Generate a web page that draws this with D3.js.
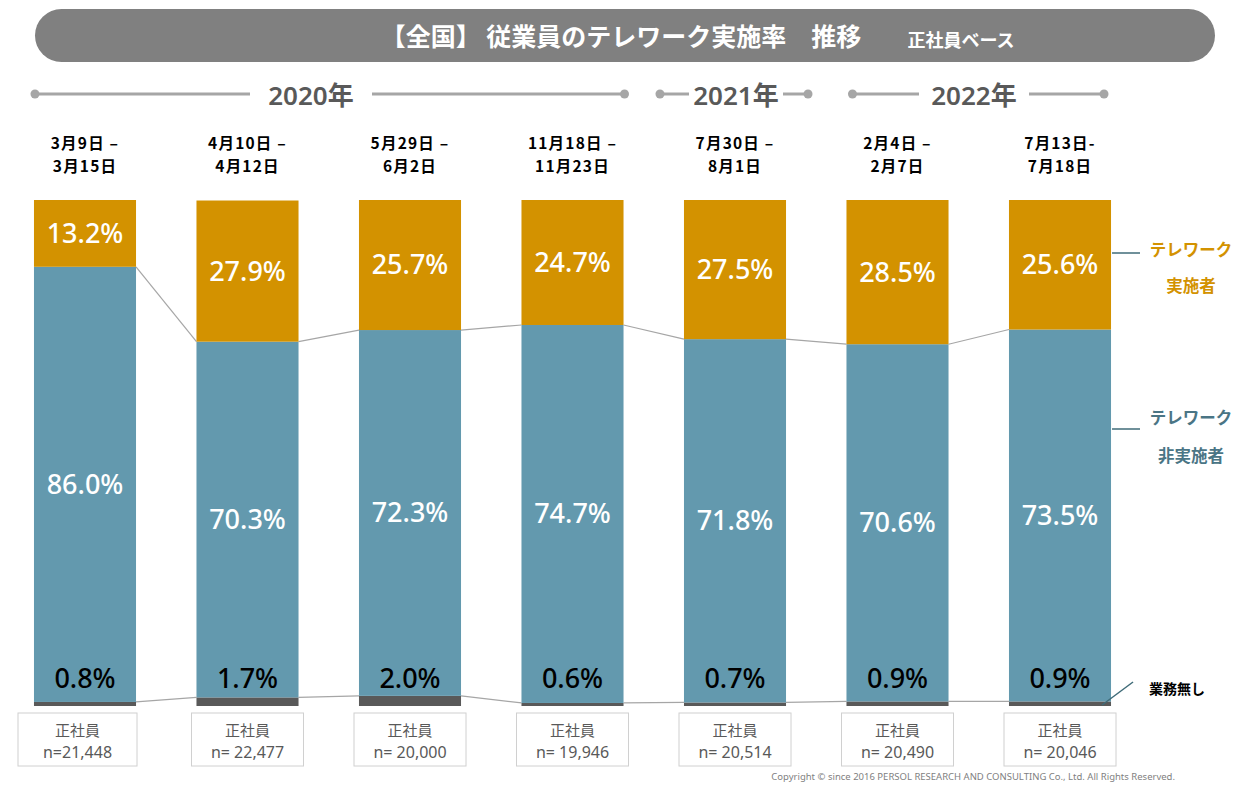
<!DOCTYPE html>
<html><head><meta charset="utf-8">
<script src="https://cdn.jsdelivr.net/npm/d3@7"></script>
<style>
html,body{margin:0;padding:0;background:#fff;}
svg{display:block;font-family:"Noto Sans CJK JP","Noto Sans",sans-serif;}
</style></head>
<body>
<svg id="chart" width="1233" height="785"></svg>
<script>
// ---- data ----
const periodLine1 = ["3月9日 –","4月10日 –","5月29日 –","11月18日 –","7月30日 –","2月4日 –","7月13日-"];
const periodLine2 = ["3月15日","4月12日","6月2日","11月23日","8月1日","2月7日","7月18日"];
const telework    = [13.2, 27.9, 25.7, 24.7, 27.5, 28.5, 25.6];
const nonTelework = [86.0, 70.3, 72.3, 74.7, 71.8, 70.6, 73.5];
const noWork      = [0.8, 1.7, 2.0, 0.6, 0.7, 0.9, 0.9];
const sampleN     = ["n=21,448","n= 22,477","n= 20,000","n= 19,946","n= 20,514","n= 20,490","n= 20,046"];
const yearLabels  = ["2020年","2021年","2022年"];
const yearFirst   = [0, 4, 5];
const yearLast    = [3, 4, 6];
const seriesNames = ["テレワーク実施者","テレワーク非実施者","業務無し"];

const C_ORANGE = "#D39200", C_BLUE = "#6399AE", C_GRAY = "#595959", C_TEAL = "#3F6B78";

const svg = d3.select("#chart");
const idx = d3.range(telework.length);

const x = d3.scaleBand().domain(idx).range([3.75, 1141.25]).paddingInner(0.372).paddingOuter(0.186);
const y = d3.scaleLinear().domain([0, 100]).range([706, 200]);
const bw = x.bandwidth();

// ---- title banner ----
svg.append("rect").attr("x", 35).attr("y", 9).attr("width", 1180).attr("height", 53)
  .attr("rx", 26.5).attr("fill", "#808080");
svg.append("text").attr("x", 621).attr("y", 46).attr("text-anchor", "middle")
  .attr("fill", "#fff").attr("font-size", 25).attr("font-weight", "bold")
  .text("【全国】 従業員のテレワーク実施率　推移");
svg.append("text").attr("x", 961).attr("y", 47).attr("text-anchor", "middle")
  .attr("fill", "#fff").attr("font-size", 18).attr("font-weight", "bold")
  .text("正社員ベース");

// ---- year headers ----
const yearY = 94;
const padL = [1, -24, 6], padR = [1, 22, -7];
const textHalf = [[-61, 61], [-47, 47], [-55, 55]];
yearLabels.forEach((lab, i) => {
  const x0 = x(yearFirst[i]) + padL[i];
  const x1 = x(yearLast[i]) + bw + padR[i];
  const cx = i === 0 ? 311 : (i === 1 ? 736 : 974);
  const g = svg.append("g");
  [[x0, cx + textHalf[i][0]], [cx + textHalf[i][1], x1]].forEach(s => {
    g.append("line").attr("x1", s[0]).attr("x2", s[1]).attr("y1", yearY).attr("y2", yearY)
      .attr("stroke", "#a6a6a6").attr("stroke-width", 3);
  });
  [x0, x1].forEach(px => g.append("circle").attr("cx", px).attr("cy", yearY).attr("r", 4.5).attr("fill", "#a6a6a6"));
  g.append("text").attr("x", cx).attr("y", 105).attr("text-anchor", "middle")
    .attr("fill", "#595959").attr("font-size", 26).attr("font-weight", 600)
    .attr("font-family", "'Noto Sans','Noto Sans CJK JP',sans-serif")
    .text(lab);
});

// ---- period labels ----
idx.forEach(i => {
  const cx = x(i) + bw / 2;
  const t = svg.append("text").attr("text-anchor", "middle").attr("font-size", 15.5)
    .attr("font-weight", "bold").attr("fill", "#000").attr("letter-spacing", 1.2);
  t.append("tspan").attr("x", cx).attr("y", 149).text(periodLine1[i]);
  t.append("tspan").attr("x", cx).attr("y", 172).text(periodLine2[i]);
});

// ---- stacked bars ----
const rows = idx.map(i => ({ i, noWork: noWork[i], nonTelework: nonTelework[i], telework: telework[i] }));
const stack = d3.stack().keys(["noWork", "nonTelework", "telework"]);
const layers = stack(rows);
const colors = { noWork: C_GRAY, nonTelework: C_BLUE, telework: C_ORANGE };

// connectors
const connG = svg.append("g");
[0, 1].forEach(li => {
  const layer = layers[li];
  for (let i = 0; i < idx.length - 1; i++) {
    connG.append("line")
      .attr("x1", x(i) + bw).attr("y1", y(layer[i][1]))
      .attr("x2", x(i + 1)).attr("y2", y(layer[i + 1][1]))
      .attr("stroke", "#a6a6a6").attr("stroke-width", 1.2);
  }
});

layers.forEach(layer => {
  svg.append("g").selectAll("rect").data(layer).join("rect")
    .attr("x", d => x(d.data.i))
    .attr("y", d => y(d[1]))
    .attr("width", bw)
    .attr("height", d => y(d[0]) - y(d[1]))
    .attr("fill", colors[layer.key]);
});

// labels
const fmt = v => v.toFixed(1) + "%";
const labG = svg.append("g").attr("font-family", "'Noto Sans',sans-serif").attr("font-size", 27).attr("text-anchor", "middle");
layers[2].forEach(d => {
  labG.append("text").attr("x", x(d.data.i) + bw / 2).attr("y", (y(d[0]) + y(d[1])) / 2)
    .attr("dy", "0.35em").attr("fill", "#fff").attr("font-weight", 500).text(fmt(d.data.telework));
});
layers[1].forEach(d => {
  labG.append("text").attr("x", x(d.data.i) + bw / 2).attr("y", (y(d[0]) + y(d[1])) / 2)
    .attr("dy", "0.35em").attr("fill", "#fff").attr("font-weight", 500).text(fmt(d.data.nonTelework));
});
layers[0].forEach(d => {
  labG.append("text").attr("x", x(d.data.i) + bw / 2).attr("y", y(0) - 27)
    .attr("dy", "0.35em").attr("fill", "#000").attr("font-weight", 500).text(fmt(d.data.noWork));
});

// ---- sample boxes ----
idx.forEach(i => {
  const cx = x(i) + bw / 2;
  const w = i === 0 ? 119 : 112;
  const bx = i === 0 ? 18 : cx - w / 2;
  svg.append("rect").attr("x", bx).attr("y", 713).attr("width", w).attr("height", 53)
    .attr("fill", "#fff").attr("stroke", "#d0d0d0").attr("stroke-width", 1);
  const tcx = bx + w / 2;
  svg.append("text").attr("x", tcx).attr("y", 736).attr("text-anchor", "middle")
    .attr("font-size", 15).attr("fill", "#595959").text("正社員");
  svg.append("text").attr("x", tcx).attr("y", 758).attr("text-anchor", "middle")
    .attr("font-size", 16).attr("fill", "#595959")
    .attr("font-family", "'Noto Sans',sans-serif")
    .text(sampleN[i]);
});

// ---- right legend ----
const lx = x(idx.length - 1) + bw;
const legG = svg.append("g").attr("font-weight", "bold").attr("text-anchor", "middle");
svg.append("line").attr("x1", lx + 1).attr("x2", lx + 29).attr("y1", 253).attr("y2", 253).attr("stroke", C_TEAL).attr("stroke-width", 1.5);
svg.append("line").attr("x1", lx + 1).attr("x2", lx + 29).attr("y1", 429).attr("y2", 429).attr("stroke", C_TEAL).attr("stroke-width", 1.5);
svg.append("line").attr("x1", lx - 9).attr("x2", lx + 22).attr("y1", 705).attr("y2", 682).attr("stroke", C_TEAL).attr("stroke-width", 1.5);
legG.append("text").attr("x", 1191).attr("y", 256).attr("font-size", 16.5).attr("fill", C_ORANGE).text("テレワーク");
legG.append("text").attr("x", 1191).attr("y", 292).attr("font-size", 16.5).attr("fill", C_ORANGE).text("実施者");
legG.append("text").attr("x", 1191).attr("y", 424).attr("font-size", 16.5).attr("fill", "#4A7585").text("テレワーク");
legG.append("text").attr("x", 1191).attr("y", 462).attr("font-size", 16.5).attr("fill", "#4A7585").text("非実施者");
legG.append("text").attr("x", 1177).attr("y", 694).attr("font-size", 14).attr("fill", "#000").text(seriesNames[2]);

// ---- copyright ----
svg.append("text").attr("x", 1175).attr("y", 780).attr("text-anchor", "end")
  .attr("font-size", 9.5).attr("fill", "#7f7f7f").attr("font-family", "'Noto Sans',sans-serif")
  .text("Copyright © since 2016  PERSOL  RESEARCH AND CONSULTING Co., Ltd. All Rights Reserved.");
</script>
</body></html>
